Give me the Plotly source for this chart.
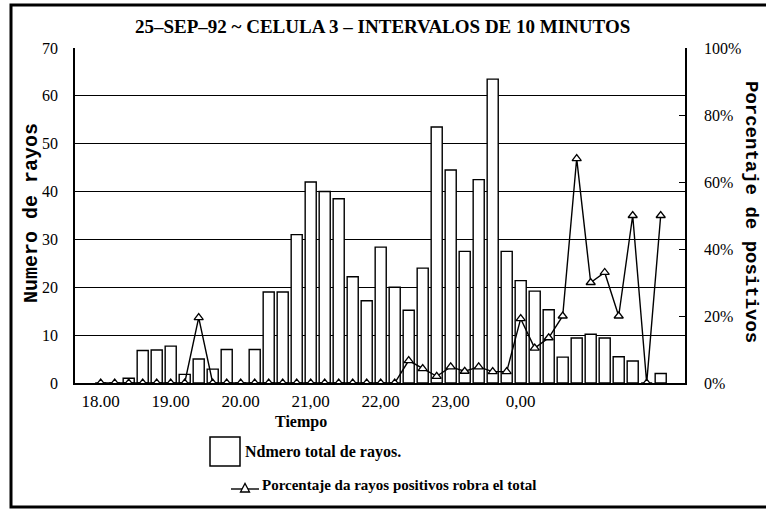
import plotly.graph_objs as go

# 10-minute intervals, index 0 = 18.00
interval_idx = list(range(41))
total_rayos = [0, 0, 1, 6.8, 6.9, 7.7, 1.8, 5, 2.9, 7, 0, 7, 19, 19, 31, 42, 40,
               38.5, 22.2, 17.2, 28.4, 20, 15.2, 24, 53.5, 44.5, 27.5, 42.5, 63.5,
               27.5, 21.4, 19.2, 15.3, 5.4, 9.4, 10.2, 9.4, 5.5, 4.6, 0, 2]
pct_positivos = [0, 0, 0, 0, 0, 0, 0, 19.5, 0, 0, 0, 0, 0, 0, 0, 0, 0, 0, 0, 0, 0, 0,
                 6.7, 4.3, 2, 4.8, 3.5, 4.8, 3.4, 3.4, 19.2, 10.4, 13.5, 20, 67, 30,
                 33, 20, 50, 0, 50]
tick_idx = [0, 5, 10, 15, 20, 25, 30]
tick_text = ["18.00", "19.00", "20.00", "21,00", "22,00", "23,00", "0,00"]

W, H = 766, 509
L, R, T, B = 75, 81, 48, 126
SERIF = "Liberation Serif, Times New Roman, serif"
MONO = "Liberation Mono, Courier New, monospace"


def px(x):
    return (x - L) / (W - L - R)


def py(y):
    return (H - B - y) / (H - T - B)


fig = go.Figure()
fig.add_trace(go.Bar(
    x=interval_idx, y=total_rayos, width=0.79,
    marker=dict(color="white", line=dict(color="black", width=1.4)),
    showlegend=False,
))
fig.add_trace(go.Scatter(
    x=interval_idx, y=pct_positivos, yaxis="y2", mode="lines+markers",
    line=dict(color="black", width=1.4),
    marker=dict(symbol="triangle-up", size=8, color="white",
                line=dict(color="black", width=1.3)),
    showlegend=False,
))

annotations = [
    dict(text="<b>25–SEP–92 ~ CELULA 3 – INTERVALOS DE 10 MINUTOS</b>",
         x=px(382), y=py(27), font=dict(family=SERIF, size=19, color="black")),
    dict(text="<b>Tiempo</b>", x=px(301), y=py(422),
         font=dict(family=SERIF, size=16, color="black")),
    dict(text="<b>Numero de rayos</b>", x=px(31), y=py(213), textangle=-90,
         font=dict(family=MONO, size=20, color="black")),
    dict(text="<b>Porcentaje de positivos</b>", x=px(751), y=py(212), textangle=90,
         font=dict(family=MONO, size=19, color="black")),
    dict(text="<b>Ndmero total de rayos.</b>", x=px(243), y=py(452), xanchor="left",
         font=dict(family=SERIF, size=16, color="black")),
    dict(text="<b>Porcentaje da rayos positivos robra el total</b>", x=px(260), y=py(485),
         xanchor="left", font=dict(family=SERIF, size=15, color="black")),
]
for a in annotations:
    a.update(xref="paper", yref="paper", showarrow=False)
    a.setdefault("xanchor", "center")
    a.setdefault("yanchor", "middle")

# legend triangle swatch (paper coords)
tx, ty = 245, 488
tri = "M {},{} L {},{} L {},{} Z".format(
    px(tx - 4.5), py(ty + 4), px(tx + 4.5), py(ty + 4), px(tx), py(ty - 4.5))

shapes = [
    # page frame
    dict(type="rect", x0=px(11), x1=px(790), y0=py(507), y1=py(5),
         line=dict(color="black", width=3)),
    # legend: bar swatch
    dict(type="rect", x0=px(210), x1=px(240), y0=py(466), y1=py(437),
         line=dict(color="black", width=1.5), fillcolor="white"),
    # legend: line swatch
    dict(type="line", x0=px(231), x1=px(259), y0=py(489), y1=py(489),
         line=dict(color="black", width=1.4)),
    dict(type="path", path=tri, fillcolor="white",
         line=dict(color="black", width=1.3)),
]
for s in shapes:
    s.update(xref="paper", yref="paper")

fig.update_layout(
    width=W, height=H,
    margin=dict(l=L, r=R, t=T, b=B, autoexpand=False),
    plot_bgcolor="white", paper_bgcolor="white",
    hovermode=False,
    xaxis=dict(
        range=[(L - 100.7) / 14, (W - R - 100.7) / 14], automargin=False,
        tickmode="array", tickvals=tick_idx, ticktext=tick_text,
        tickfont=dict(family=SERIF, size=17, color="black"),
        showgrid=False, zeroline=False,
        showline=True, linecolor="black", linewidth=1.5,
        ticks="", ticklabelstandoff=2,
    ),
    yaxis=dict(
        range=[0, 70], dtick=10, automargin=False,
        tickfont=dict(family=SERIF, size=16, color="black"),
        showgrid=True, gridcolor="black", gridwidth=1.2, zeroline=False,
        showline=True, linecolor="black", linewidth=1.5,
        ticks="", ticklabelstandoff=12,
    ),
    yaxis2=dict(
        range=[0, 100], dtick=20, overlaying="y", side="right", automargin=False,
        ticksuffix="%",
        tickfont=dict(family=SERIF, size=16, color="black"),
        showgrid=False, zeroline=False,
        showline=True, linecolor="black", linewidth=1.5,
        ticks="inside", ticklen=6, tickcolor="black", ticklabelstandoff=14,
    ),
    annotations=annotations,
    shapes=shapes,
)

# drop the default page margin so the figure sits at the window's top-left
fig.write_html("out.html", config={"displayModeBar": False},
               post_script="document.body.style.margin='0';")
